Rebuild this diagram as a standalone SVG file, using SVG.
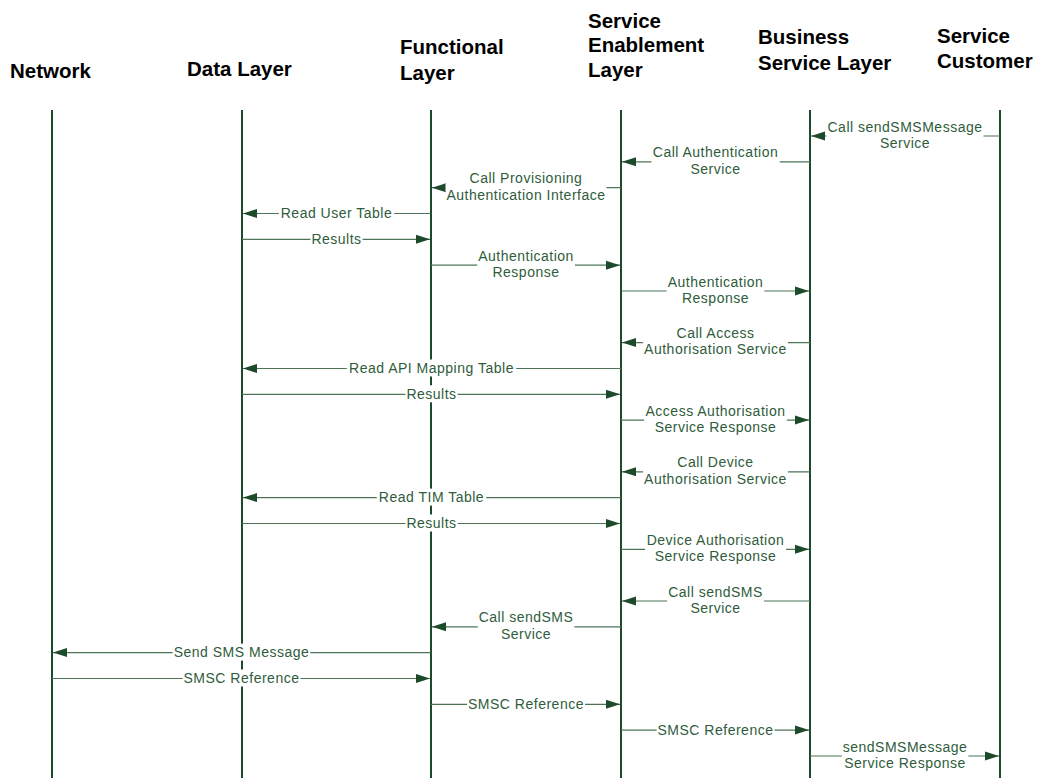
<svg xmlns="http://www.w3.org/2000/svg" width="1038" height="778" viewBox="0 0 1038 778">
<style>
.hd{font-family:"Liberation Sans",Arial,sans-serif;font-weight:bold;font-size:20.5px;fill:#000}
.life{stroke:#1c4a2b;stroke-width:2;fill:none}
.msg{stroke:#4d7458;stroke-width:1.2;fill:none;marker-end:url(#ah)}
.bg{fill:#fff}
.lb{font-family:"Liberation Sans",Arial,sans-serif;font-size:14px;letter-spacing:0.5px;fill:#2f5c3c;text-anchor:middle}
</style>
<defs>
<marker id="ah" markerWidth="14" markerHeight="10" refX="14" refY="5" orient="auto" markerUnits="userSpaceOnUse">
<path d="M0,0.5 L14,5 L0,9.5 z" fill="#1c4a2b"/>
</marker>
</defs>
<rect width="1038" height="778" fill="#fff"/>
<g id="nodes">
<g id="network"><text class="hd" x="10" y="77.5">Network</text><line class="life" x1="52" y1="110" x2="52" y2="778"/></g>
<g id="data-layer"><text class="hd" x="187" y="75.5">Data Layer</text><line class="life" x1="242" y1="110" x2="242" y2="778"/></g>
<g id="functional-layer"><text class="hd" x="400" y="53.5">Functional</text><text class="hd" x="400" y="80">Layer</text><line class="life" x1="431" y1="110" x2="431" y2="778"/></g>
<g id="service-enablement-layer"><text class="hd" x="588" y="27.5">Service</text><text class="hd" x="588" y="51.5">Enablement</text><text class="hd" x="588" y="77">Layer</text><line class="life" x1="621" y1="110" x2="621" y2="778"/></g>
<g id="business-service-layer"><text class="hd" x="758" y="44">Business</text><text class="hd" x="758" y="69.5">Service Layer</text><line class="life" x1="810" y1="110" x2="810" y2="778"/></g>
<g id="service-customer"><text class="hd" x="937" y="43">Service</text><text class="hd" x="937" y="68">Customer</text><line class="life" x1="1000" y1="110" x2="1000" y2="778"/></g>
</g>
<g id="connectors">
<g id="m1"><line class="msg" x1="1000" y1="136" x2="811" y2="136"/><rect class="bg" x="826.5" y="132" width="157" height="8"/><text class="lb" x="905" y="131.5">Call sendSMSMessage</text><text class="lb" x="905" y="147.8">Service</text></g>
<g id="m2"><line class="msg" x1="810" y1="161.8" x2="622" y2="161.8"/><rect class="bg" x="651.4" y="157.8" width="128.3" height="8"/><text class="lb" x="715.5" y="157.3">Call Authentication</text><text class="lb" x="715.5" y="173.6">Service</text></g>
<g id="m3"><line class="msg" x1="621" y1="187.7" x2="432" y2="187.7"/><rect class="bg" x="445.5" y="183.7" width="161" height="8"/><text class="lb" x="526" y="183.2">Call Provisioning</text><text class="lb" x="526" y="199.5">Authentication Interface</text></g>
<g id="m4"><line class="msg" x1="431" y1="213.5" x2="243" y2="213.5"/><rect class="bg" x="278.9" y="204.5" width="115.3" height="17"/><text class="lb" x="336.5" y="218.3">Read User Table</text></g>
<g id="m5"><line class="msg" x1="242" y1="239.3" x2="430" y2="239.3"/><rect class="bg" x="310.4" y="230.3" width="52.2" height="17"/><text class="lb" x="336.5" y="244.1">Results</text></g>
<g id="m6"><line class="msg" x1="431" y1="265.2" x2="620" y2="265.2"/><rect class="bg" x="477.2" y="261.2" width="97.7" height="8"/><text class="lb" x="526" y="260.7">Authentication</text><text class="lb" x="526" y="277">Response</text></g>
<g id="m7"><line class="msg" x1="621" y1="291" x2="809" y2="291"/><rect class="bg" x="666.6" y="287" width="97.7" height="8"/><text class="lb" x="715.5" y="286.5">Authentication</text><text class="lb" x="715.5" y="302.8">Response</text></g>
<g id="m8"><line class="msg" x1="810" y1="342.6" x2="622" y2="342.6"/><rect class="bg" x="643.1" y="338.6" width="144.8" height="8"/><text class="lb" x="715.5" y="338.1">Call Access</text><text class="lb" x="715.5" y="354.4">Authorisation Service</text></g>
<g id="m9"><line class="msg" x1="621" y1="368.5" x2="243" y2="368.5"/><rect class="bg" x="346.8" y="359.5" width="169.4" height="17"/><text class="lb" x="431.5" y="373.3">Read API Mapping Table</text></g>
<g id="m10"><line class="msg" x1="242" y1="394.3" x2="620" y2="394.3"/><rect class="bg" x="405.4" y="385.3" width="52.2" height="17"/><text class="lb" x="431.5" y="399.1">Results</text></g>
<g id="m11"><line class="msg" x1="621" y1="420.1" x2="809" y2="420.1"/><rect class="bg" x="644.2" y="416.1" width="142.7" height="8"/><text class="lb" x="715.5" y="415.6">Access Authorisation</text><text class="lb" x="715.5" y="431.9">Service Response</text></g>
<g id="m12"><line class="msg" x1="810" y1="471.8" x2="622" y2="471.8"/><rect class="bg" x="643.1" y="467.8" width="144.8" height="8"/><text class="lb" x="715.5" y="467.3">Call Device</text><text class="lb" x="715.5" y="483.6">Authorisation Service</text></g>
<g id="m13"><line class="msg" x1="621" y1="497.6" x2="243" y2="497.6"/><rect class="bg" x="376.8" y="488.6" width="109.4" height="17"/><text class="lb" x="431.5" y="502.4">Read TIM Table</text></g>
<g id="m14"><line class="msg" x1="242" y1="523.5" x2="620" y2="523.5"/><rect class="bg" x="405.4" y="514.5" width="52.2" height="17"/><text class="lb" x="431.5" y="528.3">Results</text></g>
<g id="m15"><line class="msg" x1="621" y1="549.3" x2="809" y2="549.3"/><rect class="bg" x="645.1" y="545.3" width="140.9" height="8"/><text class="lb" x="715.5" y="544.8">Device Authorisation</text><text class="lb" x="715.5" y="561.1">Service Response</text></g>
<g id="m16"><line class="msg" x1="810" y1="601" x2="622" y2="601"/><rect class="bg" x="667.2" y="597" width="96.7" height="8"/><text class="lb" x="715.5" y="596.5">Call sendSMS</text><text class="lb" x="715.5" y="612.8">Service</text></g>
<g id="m17"><line class="msg" x1="621" y1="626.8" x2="432" y2="626.8"/><rect class="bg" x="477.7" y="622.8" width="96.7" height="8"/><text class="lb" x="526" y="622.3">Call sendSMS</text><text class="lb" x="526" y="638.6">Service</text></g>
<g id="m18"><line class="msg" x1="431" y1="652.6" x2="53" y2="652.6"/><rect class="bg" x="172.7" y="643.6" width="137.6" height="17"/><text class="lb" x="241.5" y="657.4">Send SMS Message</text></g>
<g id="m19"><line class="msg" x1="52" y1="678.5" x2="430" y2="678.5"/><rect class="bg" x="182.6" y="669.5" width="117.9" height="17"/><text class="lb" x="241.5" y="683.3">SMSC Reference</text></g>
<g id="m20"><line class="msg" x1="431" y1="704.3" x2="620" y2="704.3"/><rect class="bg" x="467.1" y="695.3" width="117.9" height="17"/><text class="lb" x="526" y="709.1">SMSC Reference</text></g>
<g id="m21"><line class="msg" x1="621" y1="730.1" x2="809" y2="730.1"/><rect class="bg" x="656.6" y="721.1" width="117.9" height="17"/><text class="lb" x="715.5" y="734.9">SMSC Reference</text></g>
<g id="m22"><line class="msg" x1="810" y1="756" x2="999" y2="756"/><rect class="bg" x="841.8" y="752" width="126.5" height="8"/><text class="lb" x="905" y="751.5">sendSMSMessage</text><text class="lb" x="905" y="767.8">Service Response</text></g>
</g>
</svg>
